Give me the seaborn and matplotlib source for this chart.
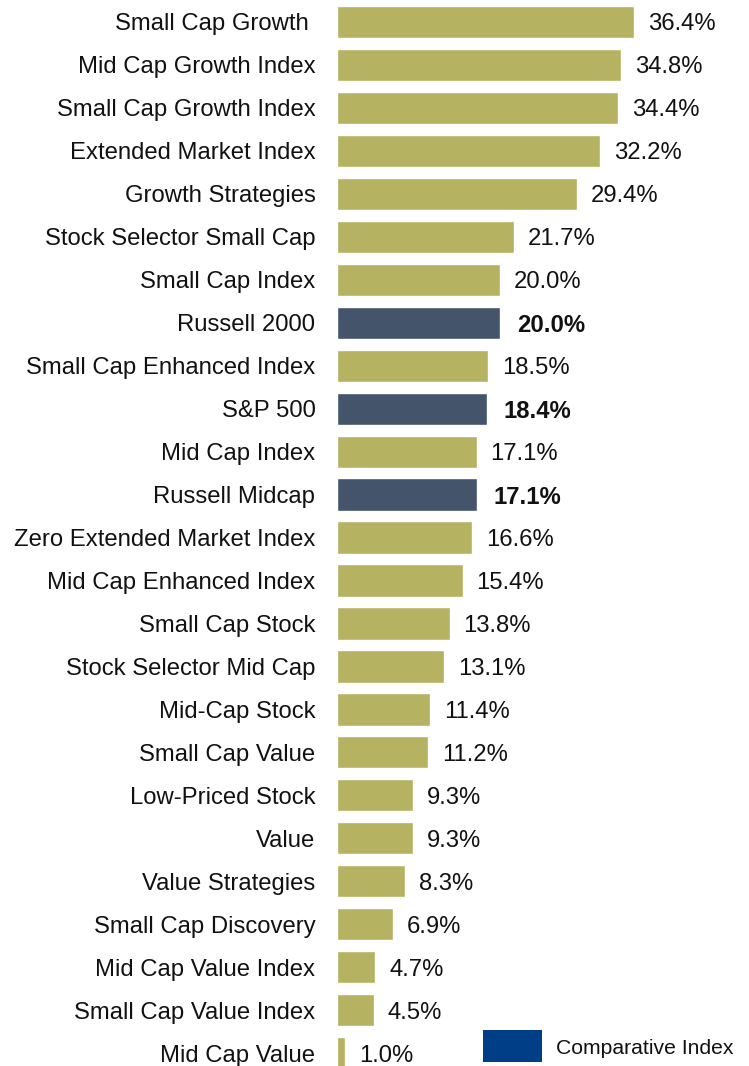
import matplotlib
matplotlib.use("Agg")
import matplotlib.pyplot as plt
from matplotlib.patches import Rectangle
import seaborn as sns
import pandas as pd

names = ["Small Cap Growth ", "Mid Cap Growth Index", "Small Cap Growth Index",
         "Extended Market Index", "Growth Strategies", "Stock Selector Small Cap",
         "Small Cap Index", "Russell 2000", "Small Cap Enhanced Index", "S&P 500",
         "Mid Cap Index", "Russell Midcap", "Zero Extended Market Index",
         "Mid Cap Enhanced Index", "Small Cap Stock", "Stock Selector Mid Cap",
         "Mid-Cap Stock", "Small Cap Value", "Low-Priced Stock", "Value",
         "Value Strategies", "Small Cap Discovery", "Mid Cap Value Index",
         "Small Cap Value Index", "Mid Cap Value"]
values = [36.4, 34.8, 34.4, 32.2, 29.4, 21.7, 20.0, 20.0, 18.5, 18.4, 17.1, 17.1,
          16.6, 15.4, 13.8, 13.1, 11.4, 11.2, 9.3, 9.3, 8.3, 6.9, 4.7, 4.5, 1.0]
comparative = ["Russell 2000", "S&P 500", "Russell Midcap"]
legend_label = "Comparative Index"

df = pd.DataFrame({"name": names, "value": values})
df["kind"] = ["Comparative" if n in comparative else "Fund" for n in names]

sns.set_theme(style="white")
plt.rcParams["font.family"] = ["Liberation Sans", "DejaVu Sans"]

W, H = 749, 1066
fig = plt.figure(figsize=(W / 100, H / 100), dpi=100)
ax = fig.add_axes([337 / W, 0.0, (W - 337) / W, 1065.5 / H])

gold = "#b5b262"
navy = "#44546a"
sns.barplot(data=df, y="name", x="value", hue="kind", orient="h",
            palette={"Fund": gold, "Comparative": navy}, dodge=False,
            saturation=1, width=0.75, legend=False, ax=ax, order=names)

ax.set_xlim(0, (W - 337) / 8.16)
ax.set_ylim(24.3, -0.5)
ax.set_xlabel("")
ax.set_ylabel("")
ax.set_xticks([])
for s in ax.spines.values():
    s.set_visible(False)
ax.set_yticks(range(len(names)))
ax.set_yticklabels(names, va="center_baseline", fontsize=17.2, color="#111111")
ax.tick_params(axis="y", length=0, pad=15.5)

for cont in ax.containers:
    labs = []
    for bar in cont:
        w = bar.get_width()
        labs.append(f"{w:.1f}%" if w == w else "")
    fc = cont.patches[0].get_facecolor()
    is_comp = matplotlib.colors.to_hex(fc) == navy
    texts = ax.bar_label(cont, labels=labs, padding=12 if is_comp else 10,
                         fontsize=17.2, color="#111111",
                         fontweight="bold" if is_comp else "normal")
    for t in texts:
        t.set_verticalalignment("center_baseline")

fig.patches.append(Rectangle((483 / W, (H - 1062) / H), 59 / W, 32 / H,
                             transform=fig.transFigure, facecolor="#003f87",
                             edgecolor="none"))
fig.text(556 / W, (H - 1047) / H, legend_label, fontsize=15.2,
         color="#111111", va="center_baseline", ha="left")

fig.savefig("out.png", dpi=100)
